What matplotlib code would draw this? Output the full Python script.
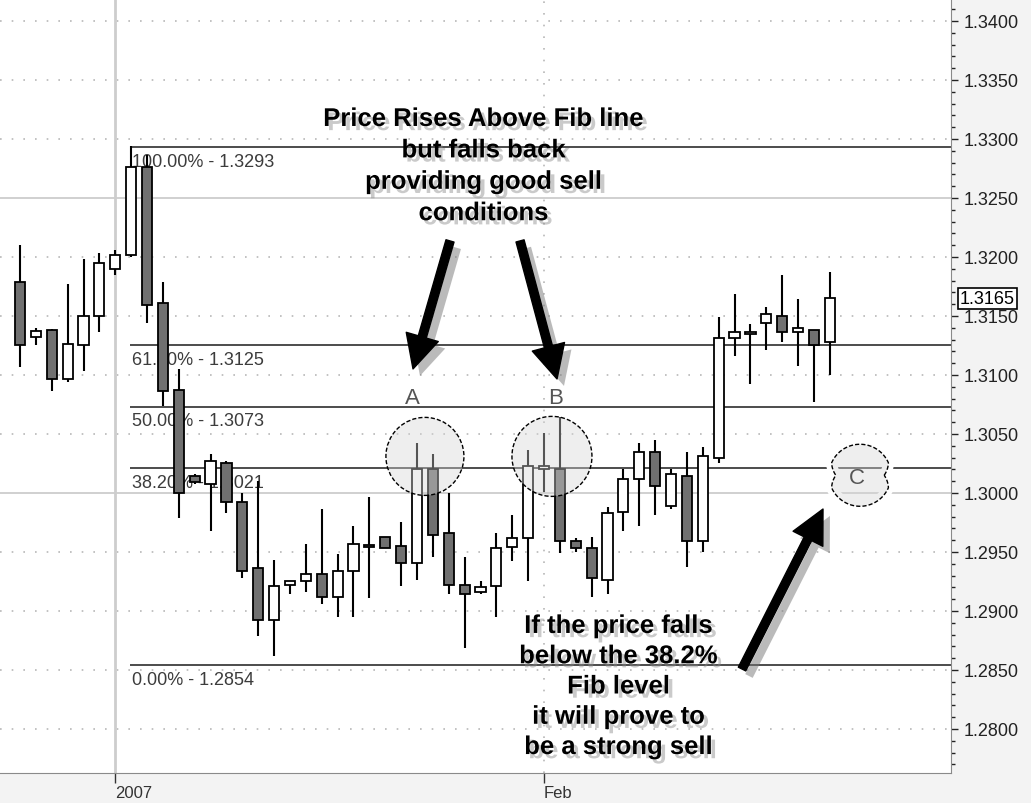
"""EUR/USD daily candles with Fibonacci retracement levels and sell-setup notes."""

import matplotlib

matplotlib.use("Agg")
import matplotlib.patheffects as pe
import matplotlib.pyplot as plt
import numpy as np
from matplotlib.patches import Ellipse, Polygon
from matplotlib.ticker import FormatStrFormatter, MultipleLocator

# daily bars
opens = [1.3179, 1.3132, 1.3138, 1.3097, 1.3125, 1.3150, 1.3190, 1.3202, 1.3276, 1.3161,
         1.3087, 1.3014, 1.3008, 1.3025, 1.2992, 1.2936, 1.2892, 1.2922, 1.2925, 1.2931,
         1.2912, 1.2934, 1.2956, 1.2963, 1.2955, 1.2941, 1.3020, 1.2966, 1.2922, 1.2916,
         1.2921, 1.2954, 1.2962, 1.3020, 1.3020, 1.2959, 1.2953, 1.2926, 1.2984, 1.3012,
         1.3035, 1.2989, 1.3014, 1.2959, 1.3030, 1.3131, 1.3135, 1.3144, 1.3150, 1.3136,
         1.3138, 1.3128]
highs = [1.3210, 1.3140, 1.3139, 1.3177, 1.3198, 1.3203, 1.3206, 1.3294, 1.3286, 1.3179,
         1.3105, 1.3016, 1.3033, 1.3027, 1.3000, 1.3010, 1.2943, 1.2925, 1.2957, 1.2986,
         1.2948, 1.2972, 1.2997, 1.2963, 1.2975, 1.3042, 1.3033, 1.3000, 1.2946, 1.2925,
         1.2966, 1.2981, 1.3036, 1.3051, 1.3064, 1.2962, 1.2963, 1.2988, 1.3020, 1.3042,
         1.3045, 1.3020, 1.3035, 1.3039, 1.3149, 1.3169, 1.3143, 1.3158, 1.3185, 1.3164,
         1.3138, 1.3187]
lows = [1.3107, 1.3125, 1.3086, 1.3094, 1.3103, 1.3136, 1.3185, 1.3200, 1.3144, 1.3074,
        1.2979, 1.3008, 1.2968, 1.2983, 1.2928, 1.2879, 1.2862, 1.2914, 1.2916, 1.2906,
        1.2895, 1.2895, 1.2911, 1.2953, 1.2921, 1.2926, 1.2946, 1.2914, 1.2869, 1.2914,
        1.2895, 1.2942, 1.2925, 1.3001, 1.2949, 1.2950, 1.2912, 1.2914, 1.2968, 1.2972,
        1.2981, 1.2986, 1.2937, 1.2950, 1.3025, 1.3116, 1.3092, 1.3121, 1.3128, 1.3108,
        1.3077, 1.3100]
closes = [1.3125, 1.3137, 1.3097, 1.3126, 1.3150, 1.3195, 1.3202, 1.3276, 1.3159, 1.3086,
          1.3000, 1.3009, 1.3027, 1.2992, 1.2934, 1.2892, 1.2921, 1.2925, 1.2931, 1.2912,
          1.2934, 1.2957, 1.2954, 1.2953, 1.2941, 1.3020, 1.2964, 1.2922, 1.2914, 1.2920,
          1.2953, 1.2962, 1.3023, 1.3023, 1.2959, 1.2953, 1.2928, 1.2983, 1.3012, 1.3035,
          1.3006, 1.3016, 1.2959, 1.3031, 1.3131, 1.3136, 1.3136, 1.3152, 1.3136, 1.3140,
          1.3125, 1.3165]

date_ticks = [6, 33]
date_labels = ["2007", "Feb"]

fib_pcts = [100.0, 61.8, 50.0, 38.2, 0.0]
fib_levels = [1.3293, 1.3125, 1.3073, 1.3021, 1.2854]

last_price = 1.3165

note_top = "Price Rises Above Fib line\nbut falls back\nproviding good sell\nconditions"
note_bottom = "If the price falls\nbelow the 38.2%\nFib level\nit will prove to\nbe a strong sell"

BULL = "white"
BEAR = "#707070"
FIB = "#2e2e2e"
GRID = "#b8b8b8"

W, H = 1031, 804
fig = plt.figure(figsize=(W / 100, H / 100), dpi=100, facecolor="#f3f3f3")
ax_w, ax_h = 951, 774
ax = fig.add_axes([0, (H - ax_h) / H, ax_w / W, ax_h / H], facecolor="white")

xlim = (-1.26, 58.63)
ylim = (1.27627, 1.34186)
ax.set_xlim(*xlim)
ax.set_ylim(*ylim)
px_x = ax_w / (xlim[1] - xlim[0])  # pixels per bar
px_y = ax_h / (ylim[1] - ylim[0])  # pixels per price unit

# grid: dotted every 50 pips, solid light lines on the round levels
ax.yaxis.set_major_locator(MultipleLocator(0.005))
ax.yaxis.set_minor_locator(MultipleLocator(0.001))
for lvl in ax.get_yticks():
    if lvl < ylim[0] or lvl > ylim[1]:
        continue
    if round(lvl * 1000) % 25 == 0:
        ax.axhline(lvl, color="#cdcdcd", lw=1.3, zorder=0)
    else:
        ax.axhline(lvl, color=GRID, lw=1.2, ls=(0, (1, 6)), zorder=0)
ax.axvline(date_ticks[0], color="#cdcdcd", lw=2, zorder=0)
ax.axvline(date_ticks[1], color=GRID, lw=1.2, ls=(0, (1, 6)), zorder=0)

# candles
o, h, l, c = (np.array(a) for a in (opens, highs, lows, closes))
x = np.arange(len(o))
up = c >= o
ax.vlines(x, l, h, color="black", lw=1.5, zorder=3)
ax.bar(x, np.maximum(np.abs(c - o), 0.00005), bottom=np.minimum(o, c), width=0.64,
       color=np.where(up, BULL, BEAR), edgecolor="black", linewidth=1.3, zorder=4)

# fibonacci retracement from the swing high
fib_start = x[np.argmax(h)] - 0.07
ax.hlines(fib_levels, fib_start, xlim[1], color=FIB, lw=1.2, zorder=2)
for pct, lvl in zip(fib_pcts, fib_levels):
    ax.annotate(f"{pct:.2f}% - {lvl:.4f}", (fib_start, lvl), xytext=(1.5, -4),
                textcoords="offset points", ha="left", va="top", fontsize=13,
                color="#3c3c3c", family="Liberation Sans", zorder=1.5)

# circles A and B around the failed breaks
fib382 = fib_levels[3]
circle_fc = (0.84, 0.84, 0.84, 0.4)
for xc, r, tag in [(25.5, 39, "A"), (33.5, 40, "B")]:
    ax.add_patch(Ellipse((xc, fib382 + 0.0010), 2 * r / px_x, 2 * r / px_y, fc=circle_fc,
                         ec="black", lw=1.0, ls=(0, (3, 1.5)), zorder=6))
    ax.text(xc - 0.8 if tag == "A" else xc + 0.25, fib382 + 0.0060, tag, ha="center",
            va="center", fontsize=16, color="#555555", family="Liberation Sans", zorder=7)

# notched marker C on the 38.2% line
cx, cy, R = 52.9, fib382 - 0.0006, 31
t = np.linspace(0, 2 * np.pi, 361)
r = R * (1 - 0.22 * np.clip(1 - np.abs(np.sin(t)) / 0.4, 0, None))
pts = np.column_stack([cx + r * np.cos(t) / px_x, cy + r * np.sin(t) / px_y])
ax.add_patch(Polygon(pts, closed=True, fc="none", ec="white", lw=8, zorder=5))
ax.add_patch(Polygon(pts, closed=True, fc=circle_fc, ec="black", lw=1.0,
                     ls=(0, (3, 1.5)), zorder=6))
ax.text(cx - 0.2, cy - 0.0002, "C", ha="center", va="center", fontsize=16, color="#555555",
        family="Liberation Sans", zorder=7)

# callouts
shadow_txt = [pe.withSimplePatchShadow(offset=(3, -3), shadow_rgbFace="#8a8a8a", alpha=0.45)]
ax.text(29.2, 1.3277, note_top, ha="center", va="center", fontsize=18.5, fontweight="bold",
        family="Liberation Sans", linespacing=1.39, zorder=10, path_effects=shadow_txt)
ax.text(37.7, 1.2836, note_bottom, ha="center", va="center", fontsize=18.5, fontweight="bold",
        family="Liberation Sans", linespacing=1.33, zorder=10, path_effects=shadow_txt)

arrow_style = "simple,head_length=1.0,head_width=1.0,tail_width=0.25"
shadow_arr = [pe.withSimplePatchShadow(offset=(5, -5), shadow_rgbFace="#777777", alpha=0.5)]
for tail, tip in [((27.08, 1.32136), (24.75, 1.31051)),
                  ((31.49, 1.32136), (33.82, 1.30966)),
                  ((45.47, 1.28508), (50.57, 1.29864))]:
    ax.annotate("", xy=tip, xytext=tail, zorder=9,
                arrowprops=dict(arrowstyle=arrow_style, fc="black", ec="black",
                                mutation_scale=24, shrinkA=0, shrinkB=0,
                                path_effects=shadow_arr))

# axes dressing
for side in ("top", "left"):
    ax.spines[side].set_visible(False)
for side in ("right", "bottom"):
    ax.spines[side].set_color("#8a8a8a")
ax.yaxis.tick_right()
ax.tick_params(axis="y", which="major", length=5, width=1, pad=4, colors="#222222",
               labelsize=13)
ax.tick_params(axis="y", which="minor", length=3, width=1, colors="#222222")
for lab in ax.get_yticklabels():
    lab.set_family("Liberation Sans")
ax.yaxis.set_major_formatter(FormatStrFormatter("%.4f"))

ax.set_xticks(date_ticks)
ax.set_xticklabels(date_labels, ha="left", fontsize=12,
                   family=["Liberation Sans Narrow", "Liberation Sans"])
ax.tick_params(axis="x", length=7, width=1, pad=2, colors="#333333")

ax.text(1.0095, last_price, f"{last_price:.4f}", transform=ax.get_yaxis_transform(),
        ha="left", va="center", fontsize=13, family="Liberation Sans", clip_on=False,
        bbox=dict(boxstyle="square,pad=0.12", fc="white", ec="black", lw=1.2), zorder=10)

fig.savefig("out.png", dpi=100, facecolor=fig.get_facecolor())
